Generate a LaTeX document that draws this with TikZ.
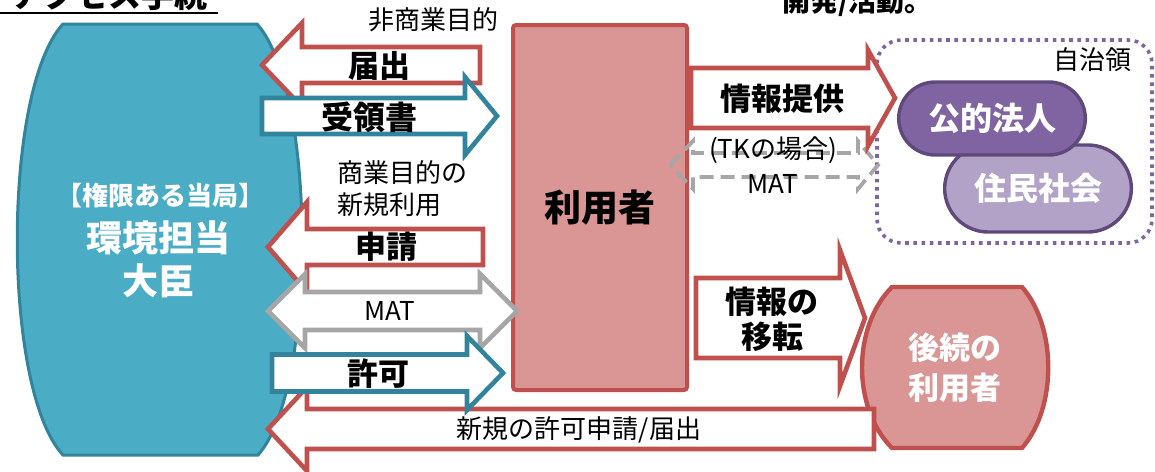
\documentclass[tikz,border=0pt]{standalone}
\usepackage{fontspec}
\setmainfont{Noto Sans CJK JP}
\usetikzlibrary{positioning, shapes.misc}

\definecolor{tealfill}{HTML}{4BACC6}
\definecolor{tealline}{HTML}{31849B}
\definecolor{redline}{HTML}{C0504D}
\definecolor{redfill}{HTML}{D99694}
\definecolor{greyline}{HTML}{A6A6A6}
\definecolor{purplefill}{HTML}{8064A2}
\definecolor{lilacfill}{HTML}{B3A2C7}
\definecolor{purpleline}{HTML}{5F497A}

% block arrow: style, tip x, head base x, tail x, centre y, body half, head half
\newcommand{\blockarrow}[7]{\draw[#1] (#2,#5) -- (#3,#5-#7) -- (#3,#5-#6) -- (#4,#5-#6)
  -- (#4,#5+#6) -- (#3,#5+#6) -- (#3,#5+#7) -- cycle;}
% double arrow: style, left tip, left base, right base, right tip, centre y, body half, head half
\newcommand{\twowayarrow}[8]{\draw[#1] (#2,#6) -- (#3,#6-#8) -- (#3,#6-#7) -- (#4,#6-#7)
  -- (#4,#6-#8) -- (#5,#6) -- (#4,#6+#8) -- (#4,#6+#7) -- (#3,#6+#7) -- (#3,#6+#8) -- cycle;}

\begin{document}
\begin{tikzpicture}[x=0.5pt,y=-0.5pt,line join=miter,
    red arrow/.style={draw=redline,fill=white,line width=2.3pt},
    blue arrow/.style={draw=tealline,fill=white,line width=2.3pt},
    grey arrow/.style={draw=greyline,fill=white,line width=2.3pt},
    mat arrow/.style={draw=greyline,line width=1.9pt,dash pattern=on 7pt off 3.5pt},
    smalltext/.style={font=\fontsize{13}{16}\selectfont},
    arrowtext/.style={font=\fontsize{15.5}{17.5}\selectfont\bfseries,align=center},
    pill/.style={rounded rectangle,draw=purpleline,line width=1.7pt,minimum width=100pt,
                 text=white,font=\fontsize{16}{19}\selectfont\bfseries}]

    \useasboundingbox (0,0) rectangle (1155,471);

    % cut-off headings
    \node[anchor=base east,font=\fontsize{16.5}{18}\selectfont\bfseries] (title) at (215,8) {アクセス手続};
    \draw[line width=1pt] (-5,13) -- (218,13);
    \node[anchor=base west,font=\fontsize{14}{16}\selectfont\bfseries] (topnote) at (775,11) {開発/活動。};

    % competent authority
    \draw[fill=tealfill,draw=tealline,line width=1.5pt] (63,24) -- (257,24)
        .. controls (317,90) and (317,390) .. (258,455) -- (63,455)
        .. controls (2,390) and (2,90) .. cycle;
    \node[text=white,font=\fontsize{13}{15}\selectfont\bfseries] (cna) at (160,196) {【権限ある当局】};
    \node[text=white,font=\fontsize{18}{21.5}\selectfont\bfseries,align=center] (minister) at (158,259) {環境担当\\大臣};

    % user
    \draw[fill=redfill,draw=redline,line width=2pt,rounded corners=1.5pt] (513,25) rectangle (687,390);
    \node[font=\fontsize{18.5}{20}\selectfont\bfseries] (user) at (600,208) {利用者};

    % indigenous community
    \draw[draw=purplefill,line width=1.8pt,dash pattern=on 1.8pt off 2.3pt,rounded corners=12pt]
        (877,40) rectangle (1152,243);
    \node[smalltext,anchor=east] (autonomy) at (1139,60) {自治領};
    \node[pill,fill=lilacfill,minimum height=43.5pt] (civil) at (1038,188.5) {住民社会};
    \node[pill,fill=purplefill,minimum height=36.5pt] (public) at (992,118.5) {公的法人};

    % subsequent user
    \draw[fill=redfill,draw=redline,line width=2.2pt] (892,287) -- (1022,287)
        .. controls (1057,327) and (1057,408) .. (1022,448) -- (892,448)
        .. controls (852,408) and (852,327) .. cycle;
    \node[text=white,font=\fontsize{15.5}{20}\selectfont\bfseries,align=center] (nextuser) at (955,368) {後続の\\利用者};

    % non-commercial
    \node[smalltext] (noncom) at (433,20) {非商業目的};
    \blockarrow{red arrow}{262}{302}{480}{65}{18}{42}
    \node[arrowtext] (notify) at (379,66) {届出};
    \blockarrow{blue arrow}{497}{465}{262}{116}{18}{39}
    \node[arrowtext,font=\fontsize{16}{18}\selectfont\bfseries] (receipt) at (369,117) {受領書};

    % commercial
    \node[smalltext,align=left,anchor=west] (com) at (330,189) {商業目的の\\新規利用};
    \blockarrow{red arrow}{268}{307}{483}{247}{18}{45}
    \node[arrowtext] (apply) at (386,247) {申請};
    \twowayarrow{grey arrow}{268}{305}{480}{517}{311}{19}{37}
    \node[smalltext] (mat) at (390,311) {MAT};
    \blockarrow{red arrow}{268}{307}{874}{429}{20}{42}
    \node[smalltext] (reapply) at (579,430) {新規の許可申請/届出};
    \blockarrow{blue arrow}{503}{467}{272}{373}{18.5}{37}
    \node[arrowtext] (permit) at (378,374) {許可};

    % user to the right
    \twowayarrow{mat arrow}{670}{693}{858}{878}{165}{12}{24}
    \node[smalltext] (tkcase) at (773,150) {(TKの場合)};
    \node[smalltext] (tkmat) at (773,184) {MAT};
    \blockarrow{red arrow}{895}{868}{691}{98}{30}{48}
    \node[arrowtext] (inform) at (782,99) {情報提供};
    \blockarrow{red arrow}{865}{840}{696}{318}{40}{68}
    \node[arrowtext] (transfer) at (772,319) {情報の\\移転};

\end{tikzpicture}
\end{document}
